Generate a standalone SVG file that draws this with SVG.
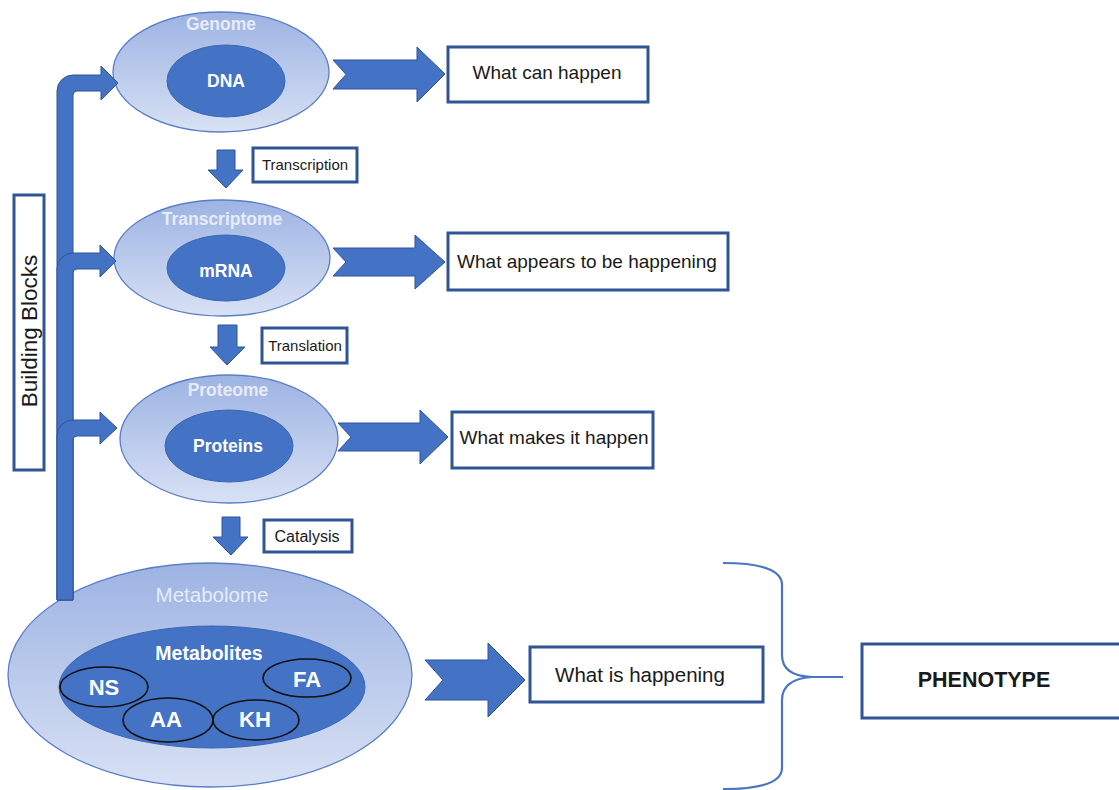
<svg xmlns="http://www.w3.org/2000/svg" width="1119" height="790" viewBox="0 0 1119 790">
  <defs>
    <linearGradient id="shell" x1="0" y1="0" x2="0" y2="1">
      <stop offset="0" stop-color="#9DB3E3"/>
      <stop offset="1" stop-color="#D8E1F4"/>
    </linearGradient>
    <style>
      .shell { fill: url(#shell); stroke: #5B7EC6; stroke-width: 1.3; }
      .core { fill: #4472C4; stroke: #3C66B4; stroke-width: 1; }
      .sub { fill: #4472C4; stroke: #111; stroke-width: 1.6; }
      .blk { fill: #4472C4; stroke: #2F5597; stroke-width: 1; }
      .box { fill: #fff; stroke: #2F5597; stroke-width: 3; }
      .lbl { font-family: "Liberation Sans", Arial, sans-serif; fill: #1a1a1a; text-anchor: middle; }
      .ttl { font-family: "Liberation Sans", Arial, sans-serif; fill: #E6ECF7; font-weight: bold; text-anchor: middle; }
      .ttl.plain { font-weight: normal; }
      .inn { font-family: "Liberation Sans", Arial, sans-serif; fill: #fff; font-weight: bold; text-anchor: middle; }
      .brace { fill: none; stroke: #4A74C4; stroke-width: 2.2; }
    </style>
  </defs>

  <rect width="1119" height="790" fill="#fff"/>

  <!-- Building blocks label -->
  <g id="building-blocks">
    <rect class="box" x="14" y="195" width="30" height="275"/>
    <text class="lbl" transform="translate(37,331) rotate(-90)" font-size="22.5">Building Blocks</text>
  </g>

  <!-- Genome -->
  <g id="genome">
    <ellipse class="shell" cx="221" cy="72" rx="108" ry="60"/>
    <ellipse class="core" cx="226" cy="81" rx="59" ry="36"/>
    <text class="ttl" x="221" y="30" font-size="17.5">Genome</text>
    <text class="inn" x="226" y="87" font-size="17.5">DNA</text>
  </g>

  <!-- Transcriptome -->
  <g id="transcriptome">
    <ellipse class="shell" cx="222" cy="258" rx="108" ry="58"/>
    <ellipse class="core" cx="226" cy="268" rx="59" ry="33"/>
    <text class="ttl" x="222" y="225" font-size="17.5">Transcriptome</text>
    <text class="inn" x="226" y="277" font-size="17.5">mRNA</text>
  </g>

  <!-- Proteome -->
  <g id="proteome">
    <ellipse class="shell" cx="229" cy="439" rx="109" ry="64"/>
    <ellipse class="core" cx="229" cy="446" rx="64" ry="36"/>
    <text class="ttl" x="228" y="396" font-size="17.5">Proteome</text>
    <text class="inn" x="228" y="452" font-size="17.5">Proteins</text>
  </g>

  <!-- Metabolome -->
  <g id="metabolome">
    <ellipse class="shell" cx="210" cy="675" rx="202" ry="112"/>
    <ellipse class="core" cx="212" cy="687" rx="153" ry="61"/>
    <text class="ttl plain" x="212" y="602" font-size="20.5">Metabolome</text>
    <text class="inn" x="209" y="660" font-size="19.5">Metabolites</text>
    <g id="ns"><ellipse class="sub" cx="104" cy="687" rx="44" ry="20"/><text class="inn" x="104" y="695" font-size="22">NS</text></g>
    <g id="aa"><ellipse class="sub" cx="168" cy="720" rx="45" ry="22"/><text class="inn" x="166" y="727" font-size="22">AA</text></g>
    <g id="kh"><ellipse class="sub" cx="256" cy="720" rx="43" ry="20"/><text class="inn" x="255" y="727" font-size="22">KH</text></g>
    <g id="fa"><ellipse class="sub" cx="307" cy="678" rx="44" ry="19"/><text class="inn" x="307" y="687" font-size="22">FA</text></g>
  </g>

  <!-- Outcome boxes -->
  <g id="box-can">
    <rect class="box" x="448" y="47" width="200" height="55"/>
    <text class="lbl" x="547" y="79" font-size="19">What can happen</text>
  </g>
  <g id="box-appears">
    <rect class="box" x="448" y="233" width="280" height="57"/>
    <text class="lbl" x="587" y="268" font-size="19">What appears to be happening</text>
  </g>
  <g id="box-makes">
    <rect class="box" x="452" y="412" width="201" height="56"/>
    <text class="lbl" x="554" y="444" font-size="19">What makes it happen</text>
  </g>
  <g id="box-is">
    <rect class="box" x="530" y="647" width="233" height="55"/>
    <text class="lbl" x="640" y="682" font-size="20.5">What is happening</text>
  </g>
  <g id="phenotype">
    <rect class="box" x="862" y="644" width="270" height="74"/>
    <text class="lbl" x="984" y="687" font-size="21.5" font-weight="bold">PHENOTYPE</text>
  </g>

  <!-- Process labels -->
  <g id="lbl-transcription">
    <rect class="box" x="253" y="148" width="104" height="34"/>
    <text class="lbl" x="305" y="170" font-size="15">Transcription</text>
  </g>
  <g id="lbl-translation">
    <rect class="box" x="262" y="328" width="85" height="35"/>
    <text class="lbl" x="305" y="351" font-size="15">Translation</text>
  </g>
  <g id="lbl-catalysis">
    <rect class="box" x="264" y="520" width="88" height="32"/>
    <text class="lbl" x="307" y="542" font-size="16">Catalysis</text>
  </g>

  <!-- Connectors -->
  <g id="connectors">
    <!-- bent arrows feeding each layer from the metabolome -->
    <path class="blk" d="M57,600 L57,91 A16,16 0 0 1 73,75 L101,75 L101,66 L118,83 L101,100 L101,91 L77,91 A4,4 0 0 0 73,95 L73,600 Z"/>
    <path class="blk" d="M57,600 L57,269 A16,16 0 0 1 73,253 L100,253 L100,245 L116,261 L100,277 L100,269 L77,269 A4,4 0 0 0 73,273 L73,600 Z"/>
    <path class="blk" d="M57,600 L57,436 A16,16 0 0 1 73,420 L100,420 L100,412 L117,428 L100,444 L100,436 L77,436 A4,4 0 0 0 73,440 L73,600 Z"/>

    <!-- downward process arrows -->
    <path class="blk" d="M217,150 L235,150 L235,170 L243,170 L226,188 L208,170 L217,170 Z"/>
    <path class="blk" d="M218,325 L237,325 L237,347 L245,347 L227,365 L210,347 L218,347 Z"/>
    <path class="blk" d="M222,517 L240,517 L240,537 L248,537 L231,555 L213,537 L222,537 Z"/>

    <!-- notched arrows toward outcome boxes -->
    <path class="blk" d="M333,60 L417,60 L417,47 L445,74 L417,102 L417,89 L333,89 L346,74.5 Z"/>
    <path class="blk" d="M333,248 L415,248 L415,235 L445,262 L415,289 L415,276 L333,276 L346,262 Z"/>
    <path class="blk" d="M338,423 L420,423 L420,410 L448,437 L420,464 L420,451 L338,451 L351,437 Z"/>
    <path class="blk" d="M425,660 L488,660 L488,643 L525,680 L488,717 L488,700 L425,700 L443,680 Z"/>

    <!-- brace gathering the outcomes into the phenotype -->
    <path class="brace" d="M723,563 Q782,563 782,585 L782,655 Q782,676 812,677 L843,677 M812,677 Q782,679 782,700 L782,768 Q782,789 723,789"/>
  </g>
</svg>
